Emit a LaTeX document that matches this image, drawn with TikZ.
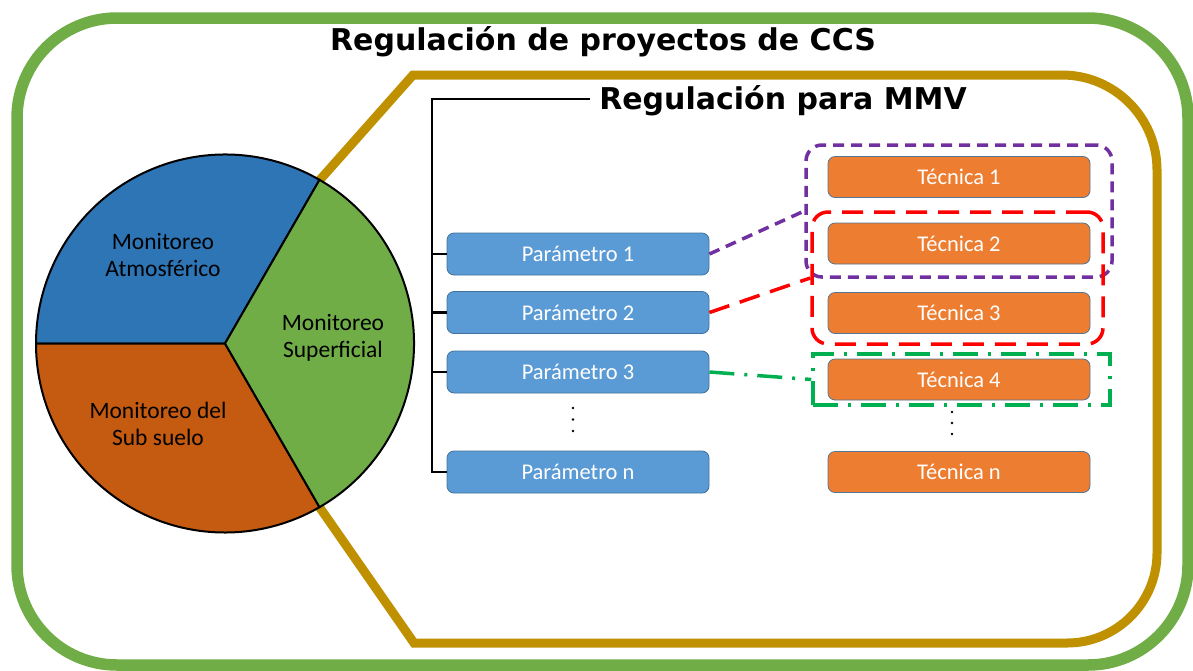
\documentclass[tikz,border=0pt]{standalone}
\usepackage{fontspec}
\setmainfont{Carlito}
\newfontfamily\titlefont{DejaVu Sans}
\definecolor{frameGreen}{HTML}{70AD47}
\definecolor{frameGold}{HTML}{BF9000}
\definecolor{pieBlue}{HTML}{2E75B6}
\definecolor{pieOrange}{HTML}{C55A11}
\definecolor{pieGreen}{HTML}{70AD47}
\definecolor{parBlue}{HTML}{5B9BD5}
\definecolor{tecOrange}{HTML}{ED7D31}
\definecolor{boxBorder}{HTML}{41719C}
\definecolor{grpPurple}{HTML}{7030A0}
\definecolor{grpRed}{HTML}{FF0000}
\definecolor{grpGreen}{HTML}{00B050}
\begin{document}
\begin{tikzpicture}[x=1pt,y=-1pt,
  parbox/.style={draw=boxBorder, line width=0.8pt, fill=parBlue, rounded corners=7pt,
    minimum width=262pt, minimum height=42pt, text=white, inner sep=0pt,
    font=\fontsize{22.5}{26}\selectfont},
  tecbox/.style={draw=boxBorder!70!gray, line width=0.8pt, fill=tecOrange, rounded corners=7pt,
    minimum width=262pt, minimum height=41pt, text=white, inner sep=0pt,
    font=\fontsize{22.5}{26}\selectfont},
  pielabel/.style={align=center, font=\fontsize{23.5}{27}\selectfont, inner sep=0pt},
  titletext/.style={font=\titlefont\bfseries\fontsize{30}{33}\selectfont, inner sep=0pt},
  grppurple/.style={draw=grpPurple, line width=3.5pt, dash pattern=on 11pt off 7pt, rounded corners=16pt},
  grpred/.style={draw=grpRed, line width=3.5pt, dash pattern=on 21pt off 11pt, rounded corners=16pt},
  grpgreen/.style={draw=grpGreen, line width=3.5pt, dash pattern=on 25pt off 10pt on 3pt off 10pt},
  bracket/.style={line width=2.5pt, black},
  sector/.style={draw=black, line width=2pt, line join=round}
]
\useasboundingbox (0,0) rectangle (1193,670);
% outer green frame
\draw[frameGreen, line width=11.5pt, rounded corners=100pt] (17,18) rectangle (1188,665);
% gold frame
\draw[frameGold, line width=9pt, line join=miter]
  (318,182) -- (413,75) -- (1062,75) arc[start angle=-90, end angle=0, radius=95]
  -- (1157,553) arc[start angle=0, end angle=90, radius=90] -- (414,643) -- (318,505);
% pie
\begin{scope}[shift={(225,343.5)}]
  \filldraw[sector, fill=pieBlue] (0,0) -- (-60:189) arc[start angle=-60, end angle=-180, radius=189] -- cycle;
  \filldraw[sector, fill=pieOrange] (0,0) -- (180:189) arc[start angle=180, end angle=60, radius=189] -- cycle;
  \filldraw[sector, fill=pieGreen] (0,0) -- (60:189) arc[start angle=60, end angle=-60, radius=189] -- cycle;
\end{scope}
\node[pielabel] (atm) at (163,255) {Monitoreo\\Atmosférico};
\node[pielabel] (sup) at (333,338) {Monitoreo\\Superficial};
\node[pielabel] (sub) at (158,424) {Monitoreo del\\Sub suelo};
% titles
\node[titletext] (title) at (603,42) {Regulación de proyectos de CCS};
\node[titletext] (mmv) at (783,101) {Regulación para MMV};
% parameters
\node[parbox] (p1) at (578,254) {Parámetro 1};
\node[parbox] (p2) at (578,312.5) {Parámetro 2};
\node[parbox] (p3) at (578,372) {Parámetro 3};
\node[parbox] (pn) at (578,472) {Parámetro n};
% techniques
\node[tecbox] (t1) at (959,177) {Técnica 1};
\node[tecbox] (t2) at (959,243.5) {Técnica 2};
\node[tecbox] (t3) at (959,313) {Técnica 3};
\node[tecbox] (t4) at (959,379.5) {Técnica 4};
\node[tecbox] (tn) at (959,472) {Técnica n};
% group boxes
\node[grppurple, minimum width=306pt, minimum height=132pt, inner sep=0pt] (gp) at (959,211) {};
\node[grpred, minimum width=291pt, minimum height=132pt, inner sep=0pt] (gr) at (957.5,278) {};
\node[grpgreen, minimum width=297pt, minimum height=51pt, inner sep=0pt] (gg) at (961.5,379.5) {};
% bracket
\coordinate (btop) at (432,99);
\draw[bracket] ([xshift=-9pt]mmv.west |- btop) -- (btop) |- (pn.west);
\draw[bracket] (btop |- p1.west) -- (p1.west);
\draw[bracket] (btop |- p2.west) -- (p2.west);
\draw[bracket] (btop |- p3.west) -- (p3.west);
% connectors
\draw[draw=grpPurple, line width=3.5pt, dash pattern=on 11pt off 7pt] (p1.east) -- (gp.west);
\draw[draw=grpRed, line width=3.5pt, dash pattern=on 21pt off 11pt] (p2.east) -- (gr.west);
\draw[draw=grpGreen, line width=3.5pt, dash pattern=on 25pt off 10pt on 3pt off 10pt] (p3.east) -- (gg.west);
% vertical dots
\foreach \yy in {408,419.5,431} \fill (573,\yy) circle (1.4);
\foreach \yy in {412,423,434} \fill (952,\yy) circle (1.4);
\end{tikzpicture}
\end{document}
